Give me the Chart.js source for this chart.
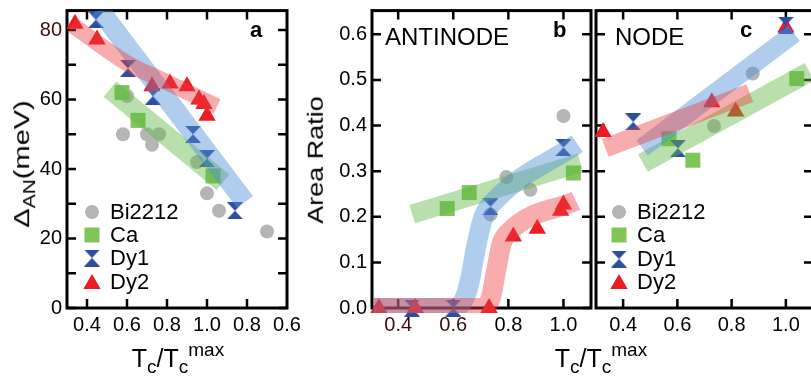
<!DOCTYPE html>
<html>
<head>
<meta charset="utf-8">
<title>Gap and area ratio vs Tc</title>
<script src="https://cdn.jsdelivr.net/npm/chart.js@4.4.1/dist/chart.umd.min.js"></script>
<style>
  body { margin: 0; background: #fff; }
  #wrap { position: relative; width: 811px; height: 385px; overflow: hidden; font-family: "Liberation Sans", Arial, Helvetica, sans-serif; }
  canvas { position: absolute; left: 0; top: 0; }
  .lbl { position: absolute; white-space: nowrap; color: #000; line-height: 1; }
  .big { font-size: 25px; }
  .panel { font-size: 22px; font-weight: bold; }
  .name { font-size: 24px; }
  .sub { font-size: 19px; position: relative; top: 6px; }
  .sup { font-size: 19px; position: relative; top: -11px; }
  .ytitle { font-size: 27px; transform: translate(-50%, -50%) rotate(-90deg) scaleY(0.85); }
  .ytitle.gap { font-size: 29px; transform: translate(-50%, -50%) rotate(-90deg) scaleY(0.78); }
  .ytitle .sub { font-size: 21px; top: 7px; }
  .xtitle { transform: translateX(-50%); }
</style>
</head>
<body>
<div id="wrap">
  <canvas id="chartA" width="830" height="385"></canvas>
  <canvas id="chartB" width="830" height="385"></canvas>
  <canvas id="chartC" width="830" height="385"></canvas>

  <div class="lbl ytitle gap" style="left:22px; top:164px;">Δ<span class="sub">AN</span>(meV)</div>
  <div class="lbl ytitle" style="left:316px; top:160px;">Area Ratio</div>
  <div class="lbl big xtitle" style="left:178px; top:346px;">T<span class="sub">c</span>/T<span class="sub">c</span><span class="sup">max</span></div>
  <div class="lbl big xtitle" style="left:601px; top:346px;">T<span class="sub">c</span>/T<span class="sub">c</span><span class="sup">max</span></div>

  <div class="lbl panel" style="left:250px; top:19px;">a</div>
  <div class="lbl panel" style="left:553px; top:19px;">b</div>
  <div class="lbl panel" style="left:740px; top:19px;">c</div>
  <div class="lbl name" style="left:385px; top:25px;">ANTINODE</div>
  <div class="lbl name" style="left:615px; top:25px;">NODE</div>
</div>
<script>
// ---- panel a : antinodal gap, x is position on the folded doping axis
// (underdoped 0.3..1.0, then overdoped side shown as 2 - value)
const aXTicks = [0.4, 0.6, 0.8, 1.0, 1.2, 1.4];
const aXLabels = ['0.4', '0.6', '0.8', '1.0', '0.8', '0.6'];
const aYTicks = [0, 10, 20, 30, 40, 50, 60, 70, 80];
const aYLabels = [0, 20, 40, 60, 80];

const aBiX = [0.58, 0.6, 0.7, 0.725, 0.76, 0.95, 1.0, 1.06, 1.3];
const aBiY = [50, 61, 50, 47, 50, 42, 33, 28, 22];
const aCaX = [0.575, 0.655, 1.03];
const aCaY = [62, 54, 38];
const aDy1X = [0.445, 0.605, 0.73, 0.93, 1.0, 1.14];
const aDy1Y = [83, 69, 61, 50, 43, 28];
const aDy2X = [0.34, 0.45, 0.725, 0.815, 0.9, 0.96, 0.985, 1.0];
const aDy2Y = [81.8, 77.3, 63.8, 64.6, 63.8, 60, 58.7, 55.3];

const aBandDy2X = [0.325, 0.6, 0.8, 1.05];
const aBandDy2Y = [81.5, 70.5, 65, 58];
const aBandDy1X = [0.46, 1.19];
const aBandDy1Y = [86, 30.5];
const aBandCaX = [0.515, 1.08];
const aBandCaY = [63, 36.2];

// ---- panel b : antinode area ratio
const bXTicks = [0.4, 0.6, 0.8, 1.0];
const bYTicks = [0, 0.1, 0.2, 0.3, 0.4, 0.5, 0.6];

const bBiX = [0.735, 0.793, 0.88, 1.0];
const bBiY = [0.205, 0.287, 0.259, 0.421];
const bCaX = [0.578, 0.658, 1.036];
const bCaY = [0.218, 0.253, 0.296];
const bDy1X = [0.45, 0.6, 0.735, 1.0];
const bDy1Y = [0, 0, 0.222, 0.352];
const bDy2X = [0.33, 0.462, 0.73, 0.818, 0.905, 0.99, 1.0];
const bDy2Y = [0, 0, 0, 0.157, 0.174, 0.213, 0.227];

const bBandCaX = [0.451, 1.062];
const bBandCaY = [0.206, 0.318];
const bBandDy1X = [0.31, 0.6, 0.64, 0.66, 0.685, 0.71, 0.75, 1.05];
const bBandDy1Y = [0, 0, 0.02, 0.06, 0.14, 0.2, 0.235, 0.36];
const bBandDy2X = [0.31, 0.7, 0.735, 0.755, 0.775, 0.8, 1.045];
const bBandDy2Y = [0, 0, 0.02, 0.08, 0.14, 0.165, 0.235];

// ---- panel c : node area ratio
const cXTicks = [0.4, 0.6, 0.8, 1.0];
const cYTicks = [0.1, 0.2, 0.3, 0.4, 0.5, 0.6];

const cBiX = [0.735, 0.878];
const cBiY = [0.399, 0.514];
const cCaX = [0.569, 0.657, 1.04];
const cCaY = [0.371, 0.324, 0.503];
const cDy1X = [0.437, 0.602, 1.0];
const cDy1Y = [0.408, 0.35, 0.62];
const cDy2X = [0.326, 0.727, 0.815, 1.0];
const cDy2Y = [0.386, 0.451, 0.431, 0.615];

const cBandDy1X = [0.47, 1.03];
const cBandDy1Y = [0.351, 0.602];
const cBandDy2X = [0.334, 0.867];
const cBandDy2Y = [0.351, 0.471];
const cBandCaX = [0.473, 1.087];
const cBandCaY = [0.318, 0.518];

const seriesNames = ['Bi2212', 'Ca', 'Dy1', 'Dy2'];

const FONT = '"Liberation Sans", Arial, Helvetica, sans-serif';
Chart.defaults.font.family = FONT;
Chart.defaults.color = '#000';

const GRAY = '#b5b5b5', GREEN = '#7fc55a', BLUE = '#2f4ca3', RED = '#ea1d25';
const BAND_BLUE = 'rgba(80,145,215,0.45)';
const BAND_RED = 'rgba(235,60,60,0.42)';
const BAND_GREEN = 'rgba(100,185,70,0.45)';

// hourglass marker for Dy1
function hourglass(color) {
  const c = document.createElement('canvas');
  c.width = 16; c.height = 17;
  const g = c.getContext('2d');
  g.fillStyle = color;
  g.beginPath();
  g.moveTo(0, 0); g.lineTo(16, 0); g.lineTo(8, 8.5); g.closePath();
  g.moveTo(0, 17); g.lineTo(16, 17); g.lineTo(8, 8.5); g.closePath();
  g.fill();
  return c;
}
const hgImg = hourglass(BLUE);

const STYLES = {
  Bi2212: { shape: 'circle', r: 7, color: GRAY },
  Ca: { shape: 'rect', r: 10.6, color: GREEN },
  Dy1: { shape: hgImg, r: 8, color: BLUE },
  Dy2: { shape: 'triangle', r: 10, color: RED }
};

const pts = (xs, ys) => xs.map((x, i) => ({ x, y: ys[i] }));

function marks(name, xs, ys, order) {
  const s = STYLES[name];
  return {
    type: 'scatter', label: name, data: pts(xs, ys),
    pointStyle: s.shape, pointRadius: s.r, pointHoverRadius: s.r,
    backgroundColor: s.color, borderColor: s.color, borderWidth: 0,
    order: order, clip: false
  };
}

function band(xs, ys, color, w, smooth) {
  return {
    type: 'line', data: pts(xs, ys),
    borderColor: color, borderWidth: w, pointRadius: 0, fill: false,
    cubicInterpolationMode: smooth ? 'monotone' : 'default', tension: 0,
    borderCapStyle: 'butt', borderJoinStyle: 'round',
    order: 1, clip: { left: 0, top: 0, right: 0, bottom: 5 }
  };
}

// inward tick marks on all four sides plus the heavy frame
function frame(xTicks, yTicks) {
  return {
    id: 'frame',
    beforeDatasetsDraw(chart) {
      const { ctx, chartArea: a, scales: { x, y } } = chart;
      ctx.save();
      ctx.strokeStyle = '#000';
      ctx.lineWidth = 2.5;
      ctx.beginPath();
      xTicks.forEach(v => {
        const p = x.getPixelForValue(v);
        ctx.moveTo(p, a.top); ctx.lineTo(p, a.top + 9);
        ctx.moveTo(p, a.bottom); ctx.lineTo(p, a.bottom - 9);
      });
      yTicks.forEach(v => {
        const p = y.getPixelForValue(v);
        ctx.moveTo(a.left, p); ctx.lineTo(a.left + 9, p);
        ctx.moveTo(a.right, p); ctx.lineTo(a.right - 9, p);
      });
      ctx.stroke();
      ctx.lineWidth = 3;
      ctx.strokeRect(a.left, a.top, a.right - a.left, a.bottom - a.top);
      ctx.restore();
    }
  };
}

function drawMarker(ctx, name, x, y) {
  const s = STYLES[name];
  ctx.fillStyle = s.color;
  ctx.beginPath();
  if (name === 'Bi2212') {
    ctx.arc(x, y, s.r, 0, Math.PI * 2);
  } else if (name === 'Ca') {
    ctx.rect(x - 7.5, y - 7.5, 15, 15);
  } else if (name === 'Dy2') {
    ctx.moveTo(x, y - 10); ctx.lineTo(x + 8.7, y + 5); ctx.lineTo(x - 8.7, y + 5); ctx.closePath();
  } else {
    ctx.drawImage(hgImg, x - 8, y - 8.5);
    return;
  }
  ctx.fill();
}

// legend drawn inside the plot area
function key(x0, ys) {
  return {
    id: 'key',
    afterDatasetsDraw(chart) {
      const ctx = chart.ctx;
      ctx.save();
      ctx.font = '22px ' + FONT;
      ctx.textBaseline = 'middle';
      seriesNames.forEach((n, i) => {
        drawMarker(ctx, n, x0, ys[i] - (n === 'Dy2' ? -2 : 0));
        ctx.fillStyle = '#000';
        ctx.fillText(n, x0 + 18, ys[i] + 1);
      });
      ctx.restore();
    }
  };
}

// keep the plot box exactly where the padding puts it
function noOverflow(s, size) {
  if (s.isHorizontal()) s.height = size; else s.width = size;
  s.paddingTop = 0; s.paddingBottom = 0; s.paddingLeft = 0; s.paddingRight = 0;
}

function xScale(min, max, ticks, labels, color) {
  return {
    type: 'linear', min, max,
    afterFit: s => noOverflow(s, 77),
    afterBuildTicks: s => { s.ticks = ticks.map(v => ({ value: v })); },
    grid: { display: false, drawTicks: false },
    border: { display: false },
    ticks: {
      autoSkip: false, maxRotation: 0, minRotation: 0, padding: 5,
      font: { size: 20 }, color: color || '#000',
      callback: (v, i) => labels ? labels[i] : v.toFixed(1)
    }
  };
}

function yScale(min, max, ticks, fmt, width, show, color) {
  return {
    type: 'linear', min, max, display: show,
    afterFit: s => noOverflow(s, width),
    afterBuildTicks: s => { s.ticks = ticks.map(v => ({ value: v })); },
    grid: { display: false, drawTicks: false },
    border: { display: false },
    ticks: { padding: 5, font: { size: 20 }, color: color || '#000', callback: fmt }
  };
}

function makeChart(id, datasets, padding, scales, plugins) {
  return new Chart(document.getElementById(id), {
    type: 'scatter',
    data: { datasets },
    options: {
      responsive: false, animation: false, events: [],
      layout: { padding },
      plugins: { legend: { display: false }, tooltip: { enabled: false } },
      scales
    },
    plugins
  });
}

const MAROON = '#3d0d0d';

makeChart('chartA', [
  band(aBandDy2X, aBandDy2Y, BAND_RED, 16, true),
  band(aBandDy1X, aBandDy1Y, BAND_BLUE, 20, false),
  band(aBandCaX, aBandCaY, BAND_GREEN, 20, false),
  marks('Dy2', aDy2X, aDy2Y, 3),
  marks('Dy1', aDy1X, aDy1Y, 4),
  marks('Ca', aCaX, aCaY, 5),
  marks('Bi2212', aBiX, aBiY, 6)
], { left: 0, right: 543, top: 5, bottom: 0 }, {
  x: xScale(0.3, 1.4, aXTicks, aXLabels),
  y: yScale(0, 85.6, aYLabels, v => String(v), 67, true,
    c => (c.tick && c.tick.value === 80 ? MAROON : '#000'))
}, [frame(aXTicks.slice(0, 5), aYTicks), key(92, [212, 235, 258, 282])]);

makeChart('chartB', [
  band(bBandDy2X, bBandDy2Y, BAND_RED, 20, true),
  band(bBandDy1X, bBandDy1Y, BAND_BLUE, 20, true),
  band(bBandCaX, bBandCaY, BAND_GREEN, 19, false),
  marks('Dy2', bDy2X, bDy2Y, 3),
  marks('Dy1', bDy1X, bDy1Y, 4),
  marks('Ca', bCaX, bCaY, 5),
  marks('Bi2212', bBiX, bBiY, 6)
], { left: 312, right: 239, top: 5, bottom: 0 }, {
  x: xScale(0.305, 1.1, bXTicks, null, c => (c.tick && c.tick.value < 0.7 ? MAROON : '#000')),
  y: yScale(0, 0.652, bYTicks, v => v.toFixed(1), 60, true)
}, [frame(bXTicks, bYTicks)]);

makeChart('chartC', [
  band(cBandDy2X, cBandDy2Y, BAND_RED, 19, false),
  band(cBandDy1X, cBandDy1Y, BAND_BLUE, 19, false),
  band(cBandCaX, cBandCaY, BAND_GREEN, 20, false),
  marks('Dy1', cDy1X, cDy1Y, 3),
  marks('Dy2', cDy2X, cDy2Y, 4),
  marks('Ca', cCaX, cCaY, 5),
  marks('Bi2212', cBiX, cBiY, 6)
], { left: 596, right: 17, top: 5, bottom: 0 }, {
  x: xScale(0.3, 1.1, cXTicks, null),
  y: yScale(0, 0.652, bYTicks, v => '', 0, false)
}, [frame(cXTicks, cYTicks), key(619, [212, 235, 259, 282])]);
</script>
</body>
</html>
